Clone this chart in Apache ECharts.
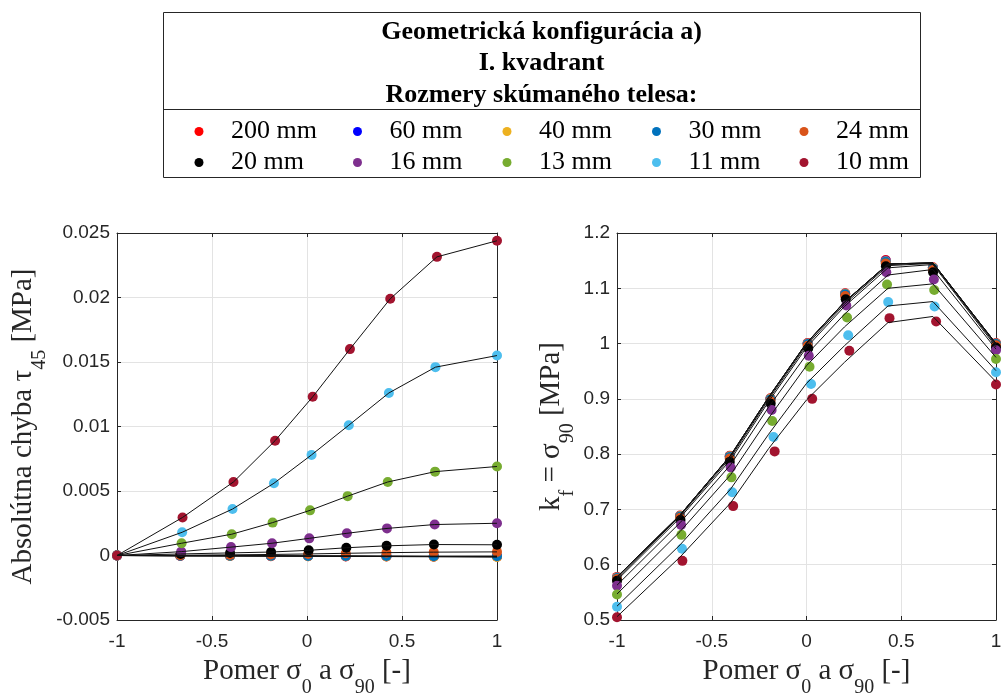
<!DOCTYPE html>
<html>
<head>
<meta charset="utf-8">
<script src="https://cdn.jsdelivr.net/npm/echarts@6/dist/echarts.min.js"></script>
<style>html,body{margin:0;padding:0;background:#fff}#c{width:1001px;height:695px}</style>
</head>
<body>
<div id="c"></div>
<script>
// ---------------- DATA ----------------
const sizes = ['200 mm', '60 mm', '40 mm', '30 mm', '24 mm', '20 mm', '16 mm', '13 mm', '11 mm', '10 mm'];
const colors = ['#FF0000', '#0000FF', '#EDB120', '#0072BD', '#D95319', '#000000', '#7E2F8E', '#77AC30', '#4DBEEE', '#A2142F'];

// ratio sigma0 / sigma90 (x values) per specimen size
const ratioLarge = [-1, -0.667, -0.405, -0.19, 0.006, 0.204, 0.418, 0.667, 1]; // 200, 60, 40, 30, 24 mm
const ratio20 = [-1, -0.665, -0.405, -0.189, 0.009, 0.207, 0.419, 0.668, 1];
const ratio16 = [-1, -0.662, -0.4, -0.184, 0.012, 0.21, 0.421, 0.672, 1];
const ratio13 = [-1, -0.66, -0.396, -0.181, 0.016, 0.214, 0.425, 0.674, 1];
const ratio11 = [-1, -0.657, -0.392, -0.174, 0.024, 0.22, 0.431, 0.676, 1];
const ratio10 = [-1, -0.655, -0.387, -0.168, 0.03, 0.226, 0.438, 0.684, 1];

// left plot: absolute error tau45 [MPa]
const err200 = [0, -0.00004, -0.00004, -0.00005, -0.00006, -0.00007, -0.00008, -0.00009, -0.0001];
const err60 = [0, -0.00001, -0.00002, -0.00003, -0.00004, -0.00005, -0.00006, -0.00008, -0.00007];
const err40 = [0, -0.00002, -0.00003, -0.00004, -0.00005, -0.00006, -0.00008, -0.00009, -0.00012];
const err30 = [0, -0.00001, -0.00002, -0.00002, -0.00003, -0.00003, -0.00004, -0.00005, -0.00005];
const err24 = [0, 0.00002, 0.00005, 0.00008, 0.00012, 0.00017, 0.00022, 0.00026, 0.00028];
const err20 = [0, 0.00012, 0.0002, 0.00027, 0.0004, 0.0006, 0.00075, 0.00085, 0.00083];
const err16 = [0, 0.0003, 0.00065, 0.00095, 0.00133, 0.00172, 0.0021, 0.0024, 0.0025];
const err13 = [0, 0.00095, 0.00165, 0.00255, 0.0035, 0.0046, 0.0057, 0.0065, 0.0069];
const err11 = [0, 0.0018, 0.0036, 0.0056, 0.0078, 0.0101, 0.0126, 0.0146, 0.0155];
const err10 = [0, 0.00295, 0.0057, 0.0089, 0.0123, 0.016, 0.0199, 0.02315, 0.0244];

// right plot: kf = sigma90 [MPa] (points)
const kf200 = [0.578, 0.689, 0.797, 0.901, 1.001, 1.091, 1.151, 1.138, 1.001];
const kf60 = [0.577, 0.688, 0.796, 0.900, 1.000, 1.090, 1.150, 1.137, 1.000];
const kf40 = [0.577, 0.688, 0.796, 0.900, 1.000, 1.090, 1.149, 1.137, 1.000];
const kf30 = [0.576, 0.687, 0.795, 0.899, 0.999, 1.089, 1.148, 1.136, 0.999];
const kf24 = [0.574, 0.685, 0.792, 0.896, 0.996, 1.086, 1.145, 1.133, 0.997];
const kf20 = [0.571, 0.681, 0.786, 0.891, 0.991, 1.080, 1.140, 1.129, 0.993];
const kf16 = [0.562, 0.672, 0.776, 0.880, 0.978, 1.069, 1.129, 1.116, 0.988];
const kf13 = [0.546, 0.654, 0.758, 0.860, 0.958, 1.047, 1.107, 1.097, 0.972];
const kf11 = [0.524, 0.629, 0.731, 0.831, 0.927, 1.015, 1.075, 1.067, 0.948];
const kf10 = [0.505, 0.607, 0.706, 0.805, 0.900, 0.987, 1.046, 1.040, 0.926];

// right plot: black reference lines
const fitRatio = [-1, -0.667, -0.4, -0.2, 0, 0.2, 0.43, 0.667, 1];
const fit200 = [0.578, 0.690, 0.798, 0.903, 1.001, 1.075, 1.144, 1.146, 1.000];
const fit60 = [0.578, 0.690, 0.798, 0.903, 1.001, 1.075, 1.144, 1.146, 1.000];
const fit40 = [0.578, 0.690, 0.798, 0.903, 1.001, 1.075, 1.144, 1.146, 1.000];
const fit30 = [0.577, 0.690, 0.797, 0.902, 1.000, 1.074, 1.143, 1.146, 0.999];
const fit24 = [0.575, 0.688, 0.794, 0.899, 0.997, 1.071, 1.141, 1.145, 0.997];
const fit20 = [0.572, 0.685, 0.790, 0.895, 0.993, 1.067, 1.137, 1.143, 0.994];
const fit16 = [0.563, 0.676, 0.781, 0.885, 0.980, 1.053, 1.124, 1.134, 0.990];
const fit13 = [0.547, 0.660, 0.763, 0.865, 0.960, 1.030, 1.100, 1.108, 0.975];
const fit11 = [0.525, 0.636, 0.737, 0.836, 0.928, 0.996, 1.068, 1.076, 0.951];
const fit10 = [0.506, 0.614, 0.712, 0.810, 0.898, 0.966, 1.038, 1.049, 0.931];

// tick labels
const xTickLabels = ['-1', '-0.5', '0', '0.5', '1'];
const yTickLabelsLeft = ['-0.005', '0', '0.005', '0.01', '0.015', '0.02', '0.025'];
const yTickLabelsRight = ['0.5', '0.6', '0.7', '0.8', '0.9', '1', '1.1', '1.2'];

const legendTitle = ['Geometrická konfigurácia a)', 'I. kvadrant', 'Rozmery skúmaného telesa:'];

// ---------------- BUILD ----------------
const ratios = [ratioLarge, ratioLarge, ratioLarge, ratioLarge, ratioLarge, ratio20, ratio16, ratio13, ratio11, ratio10];
const errs = [err200, err60, err40, err30, err24, err20, err16, err13, err11, err10];
const kfs = [kf200, kf60, kf40, kf30, kf24, kf20, kf16, kf13, kf11, kf10];
const fits = [fit200, fit60, fit40, fit30, fit24, fit20, fit16, fit13, fit11, fit10];

const zip = (xs, ys) => xs.map((x, i) => [x, ys[i]]);

const AX = '#262626';
const serif = 'Liberation Serif';
const sans = 'Liberation Sans';

function labelFrom(list, min, step) {
  return v => list[Math.round((v - min) / step)] ?? '';
}

const nameRich = {
  m: { fontFamily: serif, fontSize: 29, color: AX, lineHeight: 29, verticalAlign: 'top' },
  s: { fontFamily: serif, fontSize: 20, color: AX, lineHeight: 62, verticalAlign: 'middle' }
};

function mainX(g, name) {
  return {
    type: 'value', min: -1, max: 1, interval: 0.5, gridIndex: g,
    position: 'bottom',
    name, nameLocation: 'middle', nameGap: 37, nameMoveOverlap: false,
    nameTextStyle: { rich: nameRich },
    axisLine: { show: true, onZero: false, lineStyle: { color: AX, width: 1 } },
    axisTick: { show: true, inside: true, length: 4, lineStyle: { color: AX } },
    axisLabel: { fontFamily: sans, fontSize: 19, color: AX, margin: 12, formatter: labelFrom(xTickLabels, -1, 0.5) },
    splitLine: { show: true, lineStyle: { color: '#e3e3e3', width: 1 } }
  };
}
function boxX(g) {
  return {
    type: 'value', min: -1, max: 1, interval: 0.5, gridIndex: g, position: 'top',
    axisLine: { show: true, onZero: false, lineStyle: { color: AX, width: 1 } },
    axisTick: { show: true, inside: true, length: 4, lineStyle: { color: AX } },
    axisLabel: { show: false }, splitLine: { show: false }
  };
}
function mainY(g, min, max, step, labels, name, gap) {
  return {
    type: 'value', min, max, interval: step, gridIndex: g, position: 'left',
    name, nameLocation: 'middle', nameGap: gap, nameRotate: 90, nameMoveOverlap: false,
    nameTextStyle: { rich: nameRich },
    axisLine: { show: true, onZero: false, lineStyle: { color: AX, width: 1 } },
    axisTick: { show: true, inside: true, length: 4, lineStyle: { color: AX } },
    axisLabel: { fontFamily: sans, fontSize: 19, color: AX, margin: 7, formatter: labelFrom(labels, min, step) },
    splitLine: { show: true, lineStyle: { color: '#e3e3e3', width: 1 } }
  };
}
function boxY(g, min, max, step) {
  return {
    type: 'value', min, max, interval: step, gridIndex: g, position: 'right',
    axisLine: { show: true, onZero: false, lineStyle: { color: AX, width: 1 } },
    axisTick: { show: true, inside: true, length: 4, lineStyle: { color: AX } },
    axisLabel: { show: false }, splitLine: { show: false }
  };
}

const xName = '{m|Pomer σ}{s|0}{m| a σ}{s|90}{m| [-]}';

const series = [];
sizes.forEach((nm, i) => {
  series.push({
    type: 'scatter', name: nm, xAxisIndex: 0, yAxisIndex: 0,
    symbol: 'circle', symbolSize: 10, itemStyle: { color: colors[i], opacity: 1 },
    data: zip(ratios[i], errs[i]), z: 2, silent: true
  });
  series.push({
    type: 'scatter', name: nm, xAxisIndex: 2, yAxisIndex: 2,
    symbol: 'circle', symbolSize: 10, itemStyle: { color: colors[i], opacity: 1 },
    data: zip(ratios[i], kfs[i]), z: 2, silent: true
  });
});
sizes.forEach((nm, i) => {
  series.push({
    type: 'line', name: 'line-' + nm + '-a', xAxisIndex: 0, yAxisIndex: 0,
    symbol: 'none', lineStyle: { color: '#111', width: 1 },
    data: zip(ratios[i], errs[i]), z: 3, silent: true
  });
  series.push({
    type: 'line', name: 'line-' + nm + '-b', xAxisIndex: 2, yAxisIndex: 2,
    symbol: 'none', lineStyle: { color: '#111', width: 1 },
    data: zip(fitRatio, fits[i]), z: 3, silent: true
  });
});

const colX = [194.5, 353, 502.5, 652, 799.5];
const rowTop = [118.5, 149.5];
const legends = sizes.map((nm, i) => ({
  data: [nm],
  left: colX[i % 5], top: rowTop[Math.floor(i / 5)],
  orient: 'horizontal', padding: 0,
  icon: 'circle', itemWidth: 54, itemHeight: 9, symbolKeepAspect: true,
  selectedMode: false,
  textStyle: { fontFamily: serif, fontSize: 26, color: '#000' }
}));

const option = {
  animation: false,
  backgroundColor: '#fff',
  grid: [
    { left: 117, top: 233, width: 380, height: 387, containLabel: false, outerBoundsMode: 'none' },
    { left: 617, top: 233, width: 379, height: 387, containLabel: false, outerBoundsMode: 'none' }
  ],
  xAxis: [mainX(0, xName), boxX(0), mainX(1, xName), boxX(1)],
  yAxis: [
    mainY(0, -0.005, 0.025, 0.005, yTickLabelsLeft, '{m|Absolútna chyba τ}{s|45}{m| [MPa]}', 46),
    boxY(0, -0.005, 0.025, 0.005),
    mainY(1, 0.5, 1.2, 0.1, yTickLabelsRight, '{m|k}{s|f}{m| = σ}{s|90}{m| [MPa]}', 18),
    boxY(1, 0.5, 1.2, 0.1)
  ],
  legend: legends,
  graphic: [
    { type: 'rect', z: 0, shape: { x: 163.5, y: 12.5, width: 757, height: 165 }, style: { fill: '#fff', stroke: AX, lineWidth: 1 } },
    { type: 'line', z: 0, shape: { x1: 163.5, y1: 109.5, x2: 920.5, y2: 109.5 }, style: { stroke: AX, lineWidth: 1 } },
    { type: 'text', z: 1, x: 541.5, y: 16, style: {
        text: legendTitle.join('\n'), align: 'center', verticalAlign: 'top',
        fontFamily: serif, fontSize: 26, fontWeight: 'bold', lineHeight: 31.6, fill: '#000'
    } }
  ],
  series
};

const chart = echarts.init(document.getElementById('c'), null, { renderer: 'canvas' });
chart.setOption(option);
</script>
</body>
</html>
